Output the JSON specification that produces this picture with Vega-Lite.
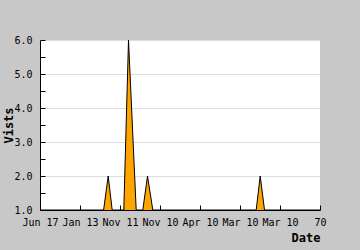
{
  "$schema": "https://vega.github.io/schema/vega-lite/v6.json",
  "width": 280,
  "height": 170,
  "autosize": {"type": "none"},
  "padding": {"left": 40, "top": 40, "right": 40, "bottom": 40},
  "background": "#c8c8c8",
  "config": {
    "view": {"fill": "white", "stroke": null},
    "font": "DejaVu Sans Mono"
  },
  "data": {
    "values": [
      {"t": 0, "visits": 1},
      {"t": 1.59, "visits": 1},
      {"t": 1.705, "visits": 2},
      {"t": 1.805, "visits": 1},
      {"t": 2.095, "visits": 1},
      {"t": 2.2125, "visits": 6},
      {"t": 2.405, "visits": 1},
      {"t": 2.57, "visits": 1},
      {"t": 2.6875, "visits": 2},
      {"t": 2.82, "visits": 1},
      {"t": 5.405, "visits": 1},
      {"t": 5.505, "visits": 2},
      {"t": 5.6125, "visits": 1},
      {"t": 7, "visits": 1}
    ]
  },
  "mark": {"type": "area", "color": "#ffa500", "opacity": 1, "line": {"color": "black", "strokeWidth": 1}},
  "encoding": {
    "x": {
      "field": "t",
      "type": "quantitative",
      "scale": {"domain": [0, 7], "nice": false, "zero": false},
      "axis": {
        "title": "Date",
        "titleFont": "DejaVu Sans Mono",
        "titleFontWeight": "bold",
        "titleFontSize": 12,
        "titleColor": "black",
        "titleAnchor": "end",
        "titlePadding": 5,
        "values": [0, 1, 2, 3, 4, 5, 6, 7],
        "labelExpr": "['Jun 17','Jan 13','Nov 11','Nov 10','Apr 10','Mar 10','Mar 10','70'][datum.value]",
        "labelFont": "DejaVu Sans Mono",
        "labelFontSize": 10,
        "labelColor": "black",
        "labelFlush": false,
        "labelOverlap": false,
        "labelBound": false,
        "labelPadding": 12,
        "tickSize": -5,
        "tickColor": "black",
        "domainColor": "black",
        "grid": false
      }
    },
    "y": {
      "field": "visits",
      "type": "quantitative",
      "scale": {"domain": [1, 6], "nice": false, "zero": false},
      "axis": {
        "title": "Vists",
        "titleFont": "DejaVu Sans Mono",
        "titleFontWeight": "bold",
        "titleFontSize": 12,
        "titleColor": "black",
        "titleX": -25,
        "values": [1, 1.5, 2, 2.5, 3, 3.5, 4, 4.5, 5, 5.5, 6],
        "labelExpr": "datum.value % 1 == 0 ? format(datum.value, '.1f') : ''",
        "labelFont": "DejaVu Sans Mono",
        "labelFontSize": 10,
        "labelColor": "black",
        "labelPadding": 13,
        "labelOverlap": false,
        "labelBound": false,
        "labelFlush": false,
        "tickSize": -5,
        "tickColor": "black",
        "domainColor": "black",
        "grid": true,
        "gridColor": "#dddddd",
        "gridOpacity": {"expr": "datum.value % 1 == 0 ? 1 : 0"}
      }
    },
    "y2": {"datum": 1}
  }
}
